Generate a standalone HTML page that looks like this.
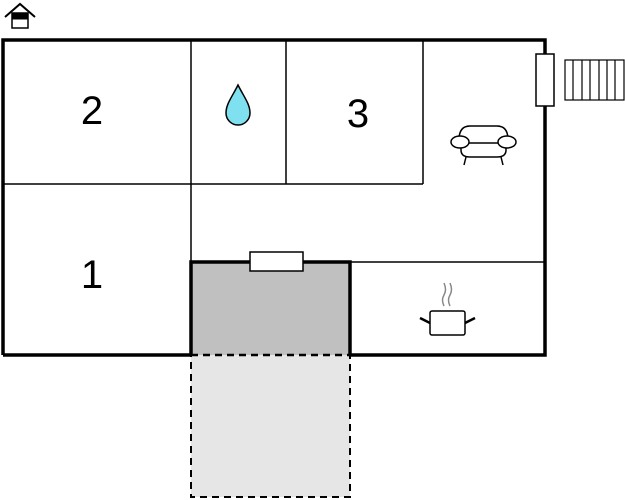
<!DOCTYPE html>
<html><head><style>body{margin:0;background:#fff}svg{display:block}</style></head><body>
<svg width="625" height="500" viewBox="0 0 625 500" xmlns="http://www.w3.org/2000/svg">
<rect x="191" y="355" width="159" height="142" fill="#e6e6e6" stroke="#000" stroke-width="2" stroke-dasharray="7,5"/>
<rect x="191" y="262" width="159" height="93" fill="#c0c0c0"/>
<line x1="191" y1="355" x2="350" y2="355" stroke="#000" stroke-width="2.5" stroke-dasharray="7,5"/>
<path d="M191 355 V262 H350 V355" stroke="#000" stroke-width="3.5" fill="none"/>
<g stroke="#000" stroke-width="1.5" fill="none">
<line x1="191" y1="40" x2="191" y2="262"/>
<line x1="3" y1="184" x2="423" y2="184"/>
<line x1="286" y1="40" x2="286" y2="184"/>
<line x1="423" y1="40" x2="423" y2="184"/>
<line x1="350" y1="262" x2="545" y2="262"/>
</g>
<path d="M3 355 V40 H545 V355 H350 M191 355 H3" stroke="#000" stroke-width="3.5" fill="none"/>
<rect x="250" y="252" width="53" height="19" fill="#fff" stroke="#000" stroke-width="1.5"/>
<rect x="536" y="54" width="18" height="52" fill="#fff" stroke="#000" stroke-width="1.5"/>
<g stroke="#000" stroke-width="1.2" fill="#fff">
<rect x="565" y="60" width="59" height="40"/>
<line x1="573" y1="60" x2="573" y2="100"/><line x1="582" y1="60" x2="582" y2="100"/><line x1="590" y1="60" x2="590" y2="100"/><line x1="599" y1="60" x2="599" y2="100"/><line x1="607" y1="60" x2="607" y2="100"/><line x1="615" y1="60" x2="615" y2="100"/>
</g>
<g font-family="Liberation Sans, sans-serif" font-size="40" text-anchor="middle">
<text x="92" y="124">2</text><text x="358" y="127">3</text><text x="92" y="288">1</text>
</g>
<path d="M238 85 C232 97 226 104 226 113 A12 12 0 0 0 250 113 C250 104 244 97 238 85 Z" fill="#7fe0f0" stroke="#000" stroke-width="1.5"/>
<g stroke="#000" stroke-width="1.5" fill="#fff">
<path d="M459 140 Q459 126 470 126 H497 Q508 126 508 140"/>
<path d="M461 143 V150 Q461 157 470 157 H497 Q506 157 506 150 V143"/>
<line x1="466" y1="157" x2="464" y2="165"/><line x1="501" y1="157" x2="503" y2="165"/>
<ellipse cx="460" cy="142" rx="9" ry="6"/><ellipse cx="507" cy="142" rx="9" ry="6"/>
<line x1="469" y1="143" x2="498" y2="143"/>
<rect x="430" y="311" width="35" height="24" rx="2"/>
<line x1="420" y1="318" x2="430" y2="323" stroke-width="2.5"/><line x1="465" y1="323" x2="475" y2="318" stroke-width="2.5"/>
</g>
<g stroke="#888" stroke-width="1.5" fill="none">
<path d="M444 306 Q441 300 444 295 Q447 290 444 283"/><path d="M450 306 Q447 300 450 295 Q453 290 450 283"/>
</g>
<g stroke="#000" fill="none">
<path d="M5 17 L20 4 L35 17" stroke-width="2"/>
<rect x="12" y="13" width="16" height="15" stroke-width="1.5" fill="#fff"/>
<rect x="12" y="13" width="16" height="6" fill="#000"/>
</g>
</svg>
</body></html>
